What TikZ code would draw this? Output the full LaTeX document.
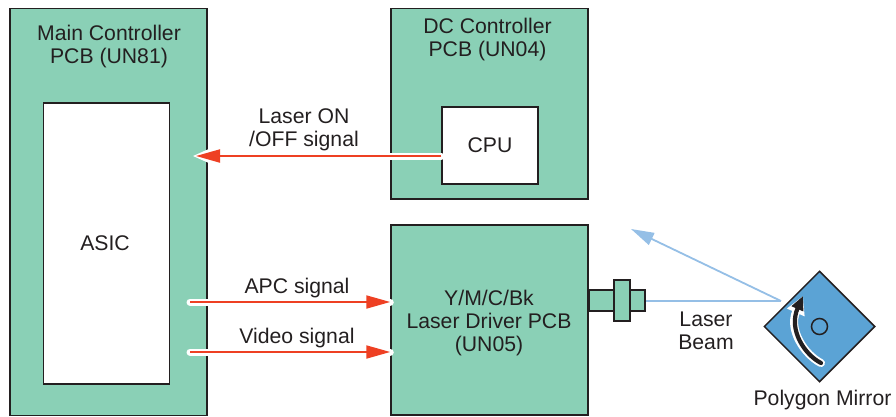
\documentclass[tikz,border=0pt]{standalone}
\usepackage{fontspec}
\setmainfont{Liberation Sans}
\usetikzlibrary{arrows.meta,shapes.geometric}
\definecolor{pcbgreen}{HTML}{8AD0B6}
\definecolor{mirrorblue}{HTML}{5BA3D5}
\definecolor{beamblue}{HTML}{95BFE6}
\definecolor{signalred}{HTML}{EE4023}
\definecolor{inkdark}{HTML}{231F20}
\begin{document}
\begin{tikzpicture}[
        x=1pt, y=-1pt,
        every node/.style={font=\fontsize{21.2}{23}\selectfont, text=inkdark},
        pcb/.style={
            draw=inkdark,
            line width=1.5pt,
            fill=pcbgreen,
            inner sep=0pt
        },
        chip/.style={
            draw=inkdark,
            line width=1.5pt,
            fill=white,
            inner sep=0pt
        },
        txt/.style={align=center, inner sep=0pt},
        halo/.style={white, line width=7pt, line cap=round},
        signal/.style={signalred, line width=2pt, -{Triangle[length=24pt,width=13pt]}},
        beam/.style={beamblue, line width=1.8pt},
        spinhalo/.style={white, line width=8pt, line cap=round},
        spin/.style={inkdark, line width=4.2pt, line cap=round}
    ]
    \useasboundingbox (0,0) rectangle (896,416);

    % Main controller
    \node[pcb, minimum width=197, minimum height=407] (main) at (108.5,212) {};
    \node[chip, minimum width=126, minimum height=281] (asic) at (106.5,243.5) {};
    \node[txt] (mainlabel) at (109,47) {Main Controller\\PCB (UN81)};
    \node[txt] (asiclabel) at (105,243.5) {ASIC};

    % DC controller
    \node[pcb, minimum width=197, minimum height=190.5] (dc) at (489.5,103.5) {};
    \node[chip, minimum width=96, minimum height=77] (cpu) at (490,145.5) {CPU};
    \node[txt] (dclabel) at (487.5,40) {DC Controller\\PCB (UN04)};

    % Laser driver and its lens
    \node[pcb, minimum width=197, minimum height=190] (driver) at (489.5,320) {};
    \node[txt] (driverlabel) at (489,323) {Y/M/C/Bk\\Laser Driver PCB\\(UN05)};
    \node[pcb, minimum width=56, minimum height=21] (lens) at (617,300.5) {};
    \node[pcb, minimum width=16, minimum height=41] (flange) at (622,300.5) {};

    % Polygon mirror
    \node[diamond, aspect=1, draw=inkdark, line width=1.5pt, fill=mirrorblue,
        minimum width=111, minimum height=111, inner sep=0pt] (mirror) at (819.5,326.5) {};
    \node[circle, draw=inkdark, line width=1.5pt, minimum size=16, inner sep=0pt] (hub) at (819.5,326.5) {};
    \node[txt] (mirrorlabel) at (822.5,400) {Polygon Mirror};

    % Free ends
    \coordinate (laseron) at (196,156);
    \coordinate (laserhalo) at (192,156);
    \coordinate (apcstart) at (190,302);
    \coordinate (videostart) at (190,352);
    \coordinate (apcend) at (driver.west |- apcstart);
    \coordinate (videoend) at (driver.west |- videostart);
    \coordinate (cpuport) at (cpu.west |- laseron);
    \coordinate (hit) at (781,301);
    \coordinate (beamend) at (631,229);
    \coordinate (spinstart) at (821,363);
    \coordinate (spinend) at (803,296);

    % Signal arrows
    \draw[halo, -{Triangle[length=26pt,width=20pt]}] (cpuport) -- (laserhalo);
    \draw[signal] (cpuport) -- (laseron);
    \draw[halo] (apcstart) -- (apcend);
    \draw[signal] (apcstart) -- (apcend);
    \draw[halo] (videostart) -- (videoend);
    \draw[signal] (videostart) -- (videoend);
    \node[txt] (onofflabel) at (304,130) {Laser ON\\/OFF signal};
    \node[txt] (apclabel) at (297,288) {APC signal};
    \node[txt] (videolabel) at (297,338) {Video signal};

    % Laser beam
    \draw[beam] (lens.east |- hit) -- (hit);
    \draw[beam, -{Triangle[length=23pt,width=13pt]}] (hit) -- (beamend);
    \node[txt] (beamlabel) at (706,331) {Laser\\Beam};

    % Rotation
    \draw[spinhalo, -{Triangle[length=18pt,width=18pt]}] (spinstart)
        .. controls (805,355) and (788,330) .. (spinend);
    \draw[spin, -{Triangle[length=14pt,width=12pt]}] (spinstart)
        .. controls (805,355) and (788,330) .. (spinend);

\end{tikzpicture}
\end{document}
